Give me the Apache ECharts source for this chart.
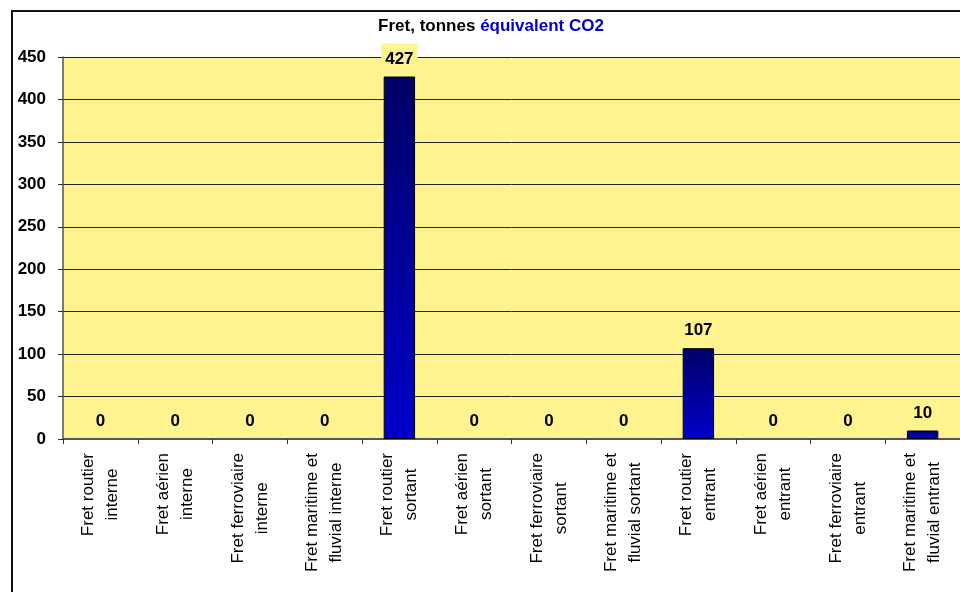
<!DOCTYPE html>
<html>
<head>
<meta charset="utf-8">
<script src="https://cdn.jsdelivr.net/npm/echarts@6/dist/echarts.min.js"></script>
<style>
html,body{margin:0;padding:0;background:#fff;}
#chart{width:960px;height:592px;}
</style>
</head>
<body>
<div id="chart"></div>
<script>
const categories = [
  "Fret routier\ninterne", "Fret aérien\ninterne", "Fret ferroviaire\ninterne", "Fret maritime et\nfluvial interne",
  "Fret routier\nsortant", "Fret aérien\nsortant", "Fret ferroviaire\nsortant", "Fret maritime et\nfluvial sortant",
  "Fret routier\nentrant", "Fret aérien\nentrant", "Fret ferroviaire\nentrant", "Fret maritime et\nfluvial entrant"
];
const values = [0, 0, 0, 0, 427, 0, 0, 0, 107, 0, 0, 10];
const titleBlack = "Fret, tonnes ";
const titleBlue = "équivalent CO2";
const yMin = 0, yMax = 450, yStep = 50;

const FONT = "'Liberation Sans', Arial, sans-serif";
const YELLOW = "#FFF38F";

const chart = echarts.init(document.getElementById('chart'));
chart.setOption({
  backgroundColor: '#fff',
  animation: false,
  graphic: [
    {
      type: 'rect',
      shape: { x: 12, y: 11, width: 1000, height: 1000 },
      style: { fill: 'none', stroke: '#111', lineWidth: 2 },
      silent: true
    },
    {
      type: 'text',
      x: 491, y: 18,
      style: {
        text: '{a|' + titleBlack + '}{b|' + titleBlue + '}',
        align: 'center',
        rich: {
          a: { fontSize: 17, fontWeight: 'bold', fill: '#000', fontFamily: FONT },
          b: { fontSize: 17, fontWeight: 'bold', fill: '#0000CC', fontFamily: FONT }
        }
      }
    }
  ],
  grid: {
    left: 63, top: 57, right: -6, bottom: 153,
    show: true, backgroundColor: YELLOW, borderWidth: 0
  },
  xAxis: {
    type: 'category',
    data: categories,
    axisLine: { show: true, lineStyle: { color: '#555', width: 2 } },
    axisTick: { show: true, length: 5, lineStyle: { color: '#333' }, alignWithLabel: false },
    axisLabel: {
      interval: 0,
      rotate: 90,
      margin: 14,
      color: '#000',
      formatter: function (v) {
        return v.split('\n').map(function (s) { return '{c|' + s + '}'; }).join('\n');
      },
      rich: {
        c: { align: 'center', fontSize: 17, lineHeight: 24, fontFamily: FONT, color: '#000' }
      }
    },
    splitLine: { show: false }
  },
  yAxis: {
    type: 'value',
    min: yMin, max: yMax, interval: yStep,
    axisLine: { show: true, lineStyle: { color: '#555', width: 1.5 } },
    axisTick: { show: true, length: 5, lineStyle: { color: '#333' } },
    axisLabel: { color: '#000', fontSize: 17, fontWeight: 'bold', fontFamily: FONT, margin: 17 },
    splitLine: { show: true, lineStyle: { color: '#222', width: 1 } }
  },
  series: [{
    type: 'bar',
    data: values.map(function (v) {
      return v === 0 ? { value: v, itemStyle: { borderWidth: 0 } } : v;
    }),
    barWidth: '42%',
    itemStyle: {
      color: new echarts.graphic.LinearGradient(0, 0, 0, 1, [
        { offset: 0, color: '#000066' },
        { offset: 1, color: '#0000CC' }
      ]),
      borderColor: '#000',
      borderWidth: 1
    },
    label: {
      show: true,
      position: 'top',
      distance: 5,
      fontSize: 17,
      fontWeight: 'bold',
      fontFamily: FONT,
      color: '#000',
      backgroundColor: YELLOW,
      padding: [7, 4, 4, 4]
    }
  }]
});
</script>
</body>
</html>
